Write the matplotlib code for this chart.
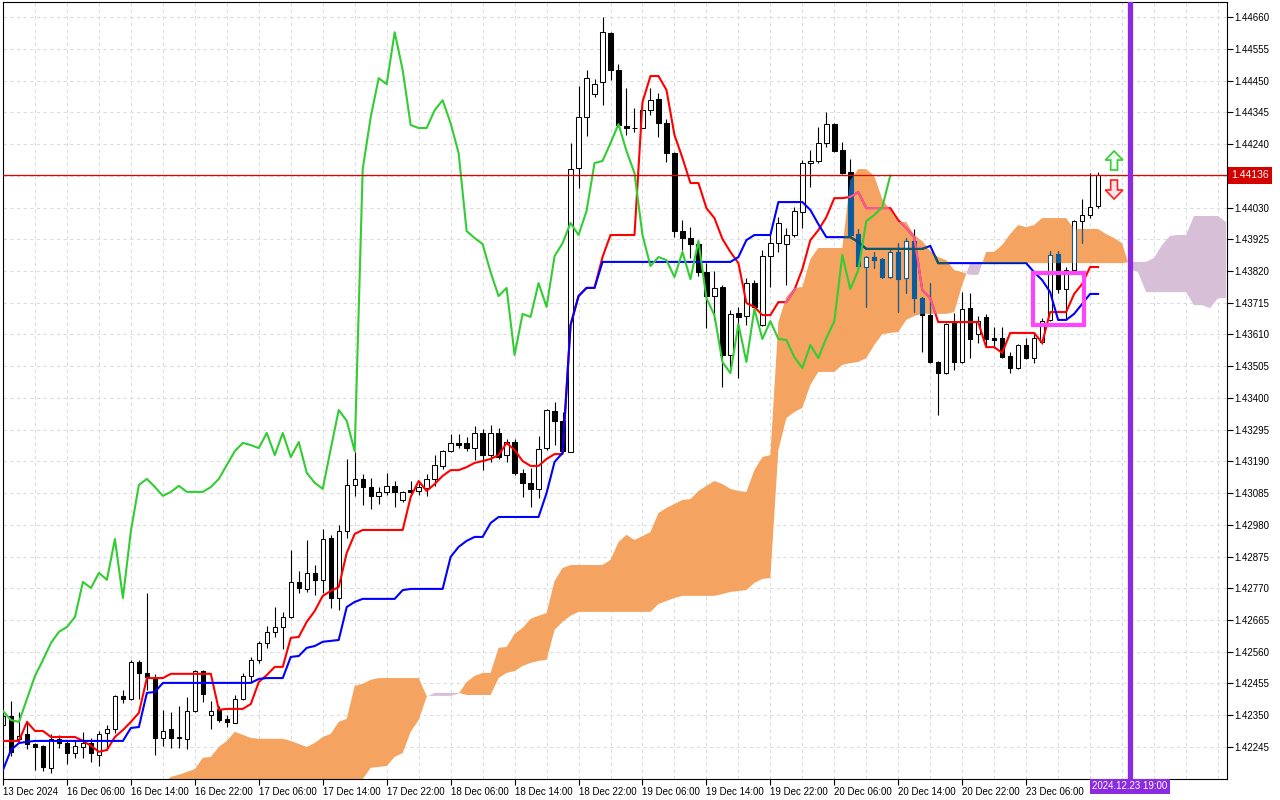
import numpy as np
import matplotlib
matplotlib.use('Agg')
import matplotlib.pyplot as plt
import matplotlib.transforms as mtransforms
from matplotlib.path import Path
from matplotlib.patches import PathPatch, Rectangle, FancyArrow

plt.rcParams['font.family'] = ['Liberation Sans', 'DejaVu Sans']
plt.rcParams['font.size'] = 7

# hourly candles, 13 Dec 2024 22:00 .. 23 Dec 2024 15:00
opens = [
    1.42318, 1.42348, 1.42272, 1.42288, 1.42255, 1.42249, 1.42176, 1.42272, 1.42258, 1.42225,
    1.42245, 1.42258, 1.42219, 1.42292, 1.42305, 1.42414, 1.42404, 1.42526, 1.42490, 1.42477,
    1.42275, 1.42305, 1.42278, 1.42272, 1.42364, 1.42497, 1.42351, 1.42371, 1.42338, 1.42325,
    1.42404, 1.42480, 1.42533, 1.42589, 1.42626, 1.42642, 1.42675, 1.42791, 1.42768, 1.42821,
    1.42798, 1.42937, 1.42738, 1.42960, 1.43112, 1.43132, 1.43105, 1.43076, 1.43089, 1.43109,
    1.43062, 1.43095, 1.43092, 1.43102, 1.43132, 1.43175, 1.43224, 1.43251, 1.43251, 1.43234,
    1.43284, 1.43211, 1.43284, 1.43211, 1.43254, 1.43152, 1.43119, 1.43099, 1.43234, 1.43357,
    1.43324, 1.43221, 1.44160, 1.44329, 1.44405, 1.44445, 1.44607, 1.44485, 1.44299, 1.44293,
    1.44293, 1.44352, 1.44389, 1.44309, 1.44210, 1.43952, 1.43929, 1.43909, 1.43816, 1.43737,
    1.43767, 1.43542, 1.43681, 1.43671, 1.43780, 1.43641, 1.43869, 1.43912, 1.43909, 1.43939,
    1.44015, 1.44177, 1.44184, 1.44243, 1.44306, 1.44220, 1.44147, 1.43942, 1.43833, 1.43866,
    1.43859, 1.43800, 1.43883, 1.43797, 1.43919, 1.43730, 1.43674, 1.43519, 1.43482, 1.43648,
    1.43519, 1.43697, 1.43611, 1.43668, 1.43598, 1.43598, 1.43539, 1.43499, 1.43575, 1.43532,
    1.43585, 1.43658, 1.43876, 1.43760, 1.43823, 1.43985, 1.44005, 1.44035,
]
highs = [
    1.42361, 1.42397, 1.42361, 1.42331, 1.42258, 1.42252, 1.42288, 1.42285, 1.42265, 1.42268,
    1.42295, 1.42275, 1.42298, 1.42318, 1.42417, 1.42434, 1.42533, 1.42533, 1.42755, 1.42487,
    1.42368, 1.42361, 1.42381, 1.42411, 1.42500, 1.42500, 1.42397, 1.42381, 1.42351, 1.42417,
    1.42490, 1.42543, 1.42596, 1.42645, 1.42708, 1.42692, 1.42897, 1.42827, 1.42930, 1.42847,
    1.42966, 1.42947, 1.42980, 1.43198, 1.43221, 1.43148, 1.43135, 1.43105, 1.43152, 1.43125,
    1.43092, 1.43125, 1.43119, 1.43148, 1.43211, 1.43228, 1.43281, 1.43281, 1.43271, 1.43307,
    1.43297, 1.43310, 1.43300, 1.43264, 1.43264, 1.43165, 1.43168, 1.43274, 1.43363, 1.43386,
    1.43353, 1.44243, 1.44432, 1.44485, 1.44455, 1.44660, 1.44610, 1.44505, 1.44425, 1.44359,
    1.44362, 1.44425, 1.44409, 1.44323, 1.44213, 1.43988, 1.43965, 1.43922, 1.43846, 1.43820,
    1.43774, 1.43691, 1.43701, 1.43797, 1.43790, 1.43889, 1.43939, 1.43998, 1.43962, 1.44031,
    1.44187, 1.44220, 1.44296, 1.44346, 1.44309, 1.44247, 1.44190, 1.43959, 1.43869, 1.43883,
    1.43863, 1.43889, 1.43912, 1.43929, 1.43959, 1.43734, 1.43780, 1.43522, 1.43648, 1.43681,
    1.43750, 1.43747, 1.43671, 1.43678, 1.43634, 1.43634, 1.43552, 1.43578, 1.43598, 1.43618,
    1.43664, 1.43886, 1.43886, 1.43833, 1.43988, 1.44058, 1.44144, 1.44147,
]
lows = [
    1.42308, 1.42215, 1.42262, 1.42239, 1.42169, 1.42166, 1.42159, 1.42242, 1.42189, 1.42209,
    1.42209, 1.42196, 1.42182, 1.42235, 1.42292, 1.42391, 1.42401, 1.42404, 1.42434, 1.42219,
    1.42249, 1.42242, 1.42242, 1.42239, 1.42361, 1.42394, 1.42305, 1.42328, 1.42311, 1.42325,
    1.42401, 1.42460, 1.42523, 1.42573, 1.42609, 1.42569, 1.42672, 1.42755, 1.42758, 1.42748,
    1.42755, 1.42705, 1.42698, 1.42937, 1.43076, 1.43046, 1.43032, 1.43049, 1.43079, 1.43039,
    1.43056, 1.43082, 1.43079, 1.43076, 1.43109, 1.43165, 1.43221, 1.43234, 1.43224, 1.43195,
    1.43161, 1.43188, 1.43198, 1.43188, 1.43145, 1.43072, 1.43039, 1.43069, 1.43228, 1.43244,
    1.43221, 1.43221, 1.44094, 1.44266, 1.44395, 1.44369, 1.44452, 1.44296, 1.44270, 1.44280,
    1.44319, 1.44336, 1.44263, 1.44180, 1.43932, 1.43889, 1.43863, 1.43803, 1.43631, 1.43658,
    1.43436, 1.43502, 1.43466, 1.43641, 1.43681, 1.43638, 1.43767, 1.43883, 1.43774, 1.43932,
    1.43962, 1.44098, 1.44177, 1.44230, 1.44213, 1.44141, 1.43936, 1.43833, 1.43701, 1.43830,
    1.43797, 1.43797, 1.43684, 1.43747, 1.43684, 1.43552, 1.43515, 1.43343, 1.43479, 1.43492,
    1.43515, 1.43532, 1.43582, 1.43568, 1.43565, 1.43532, 1.43482, 1.43496, 1.43529, 1.43515,
    1.43578, 1.43654, 1.43747, 1.43658, 1.43816, 1.43912, 1.43995, 1.44028,
]
closes = [
    1.42348, 1.42229, 1.42282, 1.42255, 1.42245, 1.42179, 1.42272, 1.42258, 1.42225, 1.42249,
    1.42258, 1.42225, 1.42288, 1.42305, 1.42414, 1.42404, 1.42526, 1.42490, 1.42477, 1.42275,
    1.42298, 1.42275, 1.42275, 1.42364, 1.42497, 1.42421, 1.42364, 1.42334, 1.42328, 1.42404,
    1.42480, 1.42533, 1.42589, 1.42626, 1.42642, 1.42675, 1.42791, 1.42771, 1.42821, 1.42798,
    1.42933, 1.42738, 1.42960, 1.43112, 1.43132, 1.43105, 1.43076, 1.43089, 1.43109, 1.43089,
    1.43089, 1.43089, 1.43105, 1.43132, 1.43178, 1.43224, 1.43251, 1.43244, 1.43234, 1.43284,
    1.43211, 1.43284, 1.43204, 1.43254, 1.43152, 1.43119, 1.43099, 1.43231, 1.43360, 1.43324,
    1.43224, 1.44157, 1.44329, 1.44458, 1.44438, 1.44610, 1.44485, 1.44303, 1.44293, 1.44293,
    1.44352, 1.44385, 1.44309, 1.44210, 1.43952, 1.43929, 1.43909, 1.43816, 1.43737, 1.43764,
    1.43542, 1.43678, 1.43668, 1.43780, 1.43701, 1.43869, 1.43912, 1.43979, 1.43939, 1.44018,
    1.44177, 1.44184, 1.44243, 1.44306, 1.44217, 1.44144, 1.43939, 1.43836, 1.43866, 1.43856,
    1.43800, 1.43883, 1.43793, 1.43919, 1.43730, 1.43674, 1.43519, 1.43482, 1.43644, 1.43519,
    1.43694, 1.43595, 1.43654, 1.43595, 1.43592, 1.43535, 1.43499, 1.43575, 1.43532, 1.43598,
    1.43654, 1.43873, 1.43760, 1.43823, 1.43985, 1.44005, 1.44031, 1.44136,
]

# Ichimoku lines (one value per bar)
tenkan = [
    1.42265, 1.42265, 1.42265, 1.42328, 1.42298, 1.42298, 1.42278, 1.42278, 1.42278, 1.42278,
    1.42265, 1.42249, 1.42229, 1.42235, 1.42278, 1.42301, 1.42328, 1.42358, 1.42473, 1.42473,
    1.42473, 1.42487, 1.42487, 1.42487, 1.42487, 1.42487, 1.42487, 1.42368, 1.42371, 1.42371,
    1.42371, 1.42387, 1.42460, 1.42483, 1.42510, 1.42510, 1.42606, 1.42609, 1.42659, 1.42695,
    1.42745, 1.42761, 1.42774, 1.42887, 1.42950, 1.42963, 1.42963, 1.42963, 1.42963, 1.42963,
    1.42963, 1.43072, 1.43125, 1.43092, 1.43115, 1.43142, 1.43161, 1.43161, 1.43171, 1.43185,
    1.43191, 1.43198, 1.43211, 1.43251, 1.43228, 1.43191, 1.43175, 1.43175, 1.43198, 1.43214,
    1.43214, 1.43641, 1.43737, 1.43764, 1.43764, 1.43866, 1.43939, 1.43939, 1.43939, 1.43939,
    1.44379, 1.44465, 1.44465, 1.44419, 1.44270, 1.44194, 1.44111, 1.44111, 1.44028, 1.43995,
    1.43926, 1.43883, 1.43846, 1.43714, 1.43701, 1.43674, 1.43674, 1.43717, 1.43717, 1.43757,
    1.43826, 1.43922, 1.43955, 1.43998, 1.44061, 1.44061, 1.44065, 1.44081, 1.44028, 1.44028,
    1.44028, 1.44028, 1.43988, 1.43962, 1.43932, 1.43757, 1.43730, 1.43651, 1.43651, 1.43651,
    1.43651, 1.43651, 1.43651, 1.43568, 1.43568, 1.43549, 1.43615, 1.43615, 1.43615, 1.43615,
    1.43582, 1.43684, 1.43684, 1.43684, 1.43744, 1.43777, 1.43833, 1.43833,
]
kijun = [
    1.42169, 1.42235, 1.42258, 1.42262, 1.42265, 1.42265, 1.42265, 1.42265, 1.42265, 1.42265,
    1.42265, 1.42265, 1.42265, 1.42265, 1.42265, 1.42265, 1.42308, 1.42311, 1.42424, 1.42427,
    1.42457, 1.42457, 1.42457, 1.42457, 1.42457, 1.42457, 1.42457, 1.42457, 1.42457, 1.42457,
    1.42457, 1.42457, 1.42470, 1.42473, 1.42473, 1.42473, 1.42543, 1.42546, 1.42573, 1.42579,
    1.42593, 1.42596, 1.42599, 1.42708, 1.42725, 1.42735, 1.42735, 1.42735, 1.42735, 1.42735,
    1.42764, 1.42768, 1.42768, 1.42768, 1.42768, 1.42768, 1.42874, 1.42907, 1.42927, 1.42940,
    1.42940, 1.42986, 1.43006, 1.43006, 1.43006, 1.43006, 1.43006, 1.43006, 1.43085, 1.43188,
    1.43218, 1.43641, 1.43737, 1.43764, 1.43764, 1.43850, 1.43850, 1.43850, 1.43850, 1.43850,
    1.43850, 1.43850, 1.43850, 1.43850, 1.43850, 1.43850, 1.43850, 1.43850, 1.43850, 1.43850,
    1.43850, 1.43850, 1.43866, 1.43922, 1.43939, 1.43939, 1.43939, 1.44048, 1.44048, 1.44048,
    1.44048, 1.44022, 1.43975, 1.43932, 1.43932, 1.43932, 1.43932, 1.43916, 1.43893, 1.43893,
    1.43893, 1.43893, 1.43893, 1.43893, 1.43893, 1.43893, 1.43903, 1.43846, 1.43846, 1.43846,
    1.43846, 1.43846, 1.43846, 1.43846, 1.43846, 1.43846, 1.43846, 1.43846, 1.43846, 1.43816,
    1.43790, 1.43750, 1.43658, 1.43658, 1.43678, 1.43711, 1.43744, 1.43744,
]

# cloud edges, bars 18 .. 153 (26 bars ahead of the last candle)
cloud_first_bar = 18
span_a = [
    1.42053, 1.42096, 1.42123, 1.42146, 1.42153, 1.42162, 1.42172, 1.42209, 1.42212, 1.42245,
    1.42265, 1.42295, 1.42285, 1.42275, 1.42272, 1.42272, 1.42272, 1.42272, 1.42265, 1.42255,
    1.42245, 1.42258, 1.42278, 1.42288, 1.42328, 1.42338, 1.42447, 1.42454, 1.42467, 1.42473,
    1.42473, 1.42473, 1.42473, 1.42473, 1.42473, 1.42414, 1.42414, 1.42414, 1.42414, 1.42421,
    1.42460, 1.42480, 1.42490, 1.42490, 1.42573, 1.42576, 1.42619, 1.42639, 1.42669, 1.42679,
    1.42688, 1.42794, 1.42837, 1.42847, 1.42847, 1.42847, 1.42847, 1.42847, 1.42864, 1.42923,
    1.42947, 1.42930, 1.42943, 1.42956, 1.43019, 1.43036, 1.43049, 1.43062, 1.43065, 1.43092,
    1.43109, 1.43125, 1.43115, 1.43099, 1.43092, 1.43089, 1.43161, 1.43204, 1.43211, 1.43651,
    1.43734, 1.43764, 1.43767, 1.43859, 1.43896, 1.43896, 1.43896, 1.43896, 1.44121, 1.44157,
    1.44157, 1.44134, 1.44058, 1.44022, 1.43982, 1.43982, 1.43939, 1.43919, 1.43886, 1.43866,
    1.43856, 1.43823, 1.43816, 1.43807, 1.43807, 1.43883, 1.43883, 1.43906, 1.43942, 1.43972,
    1.43965, 1.43972, 1.43995, 1.43995, 1.43995, 1.43995, 1.43959, 1.43959, 1.43959, 1.43959,
    1.43942, 1.43929, 1.43912, 1.43826, 1.43816, 1.43750, 1.43750, 1.43750, 1.43750, 1.43750,
    1.43750, 1.43707, 1.43707, 1.43697, 1.43730, 1.43730,
]
span_b = [
    1.42070, 1.42070, 1.42070, 1.42070, 1.42070, 1.42070, 1.42070, 1.42070, 1.42070, 1.42070,
    1.42070, 1.42070, 1.42070, 1.42070, 1.42070, 1.42070, 1.42070, 1.42070, 1.42070, 1.42070,
    1.42070, 1.42070, 1.42070, 1.42070, 1.42070, 1.42070, 1.42103, 1.42139, 1.42176, 1.42179,
    1.42182, 1.42212, 1.42225, 1.42295, 1.42334, 1.42411, 1.42424, 1.42424, 1.42424, 1.42424,
    1.42417, 1.42417, 1.42417, 1.42417, 1.42473, 1.42490, 1.42496, 1.42513, 1.42523, 1.42530,
    1.42533, 1.42632, 1.42659, 1.42679, 1.42692, 1.42692, 1.42692, 1.42692, 1.42692, 1.42692,
    1.42692, 1.42692, 1.42692, 1.42692, 1.42718, 1.42728, 1.42738, 1.42745, 1.42745, 1.42745,
    1.42745, 1.42745, 1.42751, 1.42758, 1.42761, 1.42764, 1.42788, 1.42801, 1.42804, 1.43228,
    1.43333, 1.43353, 1.43367, 1.43443, 1.43486, 1.43486, 1.43486, 1.43509, 1.43515, 1.43519,
    1.43532, 1.43575, 1.43611, 1.43615, 1.43618, 1.43658, 1.43671, 1.43678, 1.43678, 1.43678,
    1.43678, 1.43684, 1.43774, 1.43846, 1.43846, 1.43846, 1.43846, 1.43846, 1.43846, 1.43846,
    1.43846, 1.43846, 1.43846, 1.43846, 1.43846, 1.43846, 1.43846, 1.43846, 1.43846, 1.43846,
    1.43846, 1.43846, 1.43846, 1.43850, 1.43850, 1.43850, 1.43863, 1.43906, 1.43936, 1.43939,
    1.43939, 1.44002, 1.44002, 1.44002, 1.44002, 1.43982,
]
chikou_shift = 26

time_ticks = [0, 8, 16, 24, 32, 40, 48, 56, 64, 72, 80, 88, 96, 104, 112, 120, 128]
time_labels = ['13 Dec 2024', '16 Dec 06:00', '16 Dec 14:00', '16 Dec 22:00', '17 Dec 06:00',
               '17 Dec 14:00', '17 Dec 22:00', '18 Dec 06:00', '18 Dec 14:00', '18 Dec 22:00',
               '19 Dec 06:00', '19 Dec 14:00', '19 Dec 22:00', '20 Dec 06:00', '20 Dec 14:00',
               '20 Dec 22:00', '23 Dec 06:00']
price_ticks = [1.42245, 1.42350, 1.42455, 1.42560, 1.42665, 1.42770, 1.42875, 1.42980,
               1.43085, 1.43190, 1.43295, 1.43400, 1.43505, 1.43610, 1.43715, 1.43820,
               1.43925, 1.44030, 1.44135, 1.44240, 1.44345, 1.44450, 1.44555, 1.44660]

marker_bar = 141
marker_label = '2024.12.23 19:00'
box_bars = (128.9, 135.25)
box_prices = (1.43641, 1.43813)
arrow_bar = 139
up_arrow = (1.44154, 1.44217)
down_arrow = (1.44121, 1.44058)

bars = np.arange(len(closes))
cloud_x = np.arange(cloud_first_bar, cloud_first_bar + len(span_a))

fig = plt.figure(figsize=(12.8, 8), dpi=100)
ax = fig.add_axes([3 / 1280, 21 / 800, 1224 / 1280, 777 / 800])
ax.set_xlim(0.125, 153.125)
ax.set_ylim(1.42139, 1.44710)

# cloud
a = np.array(span_a)
b = np.array(span_b)
ax.fill_between(cloud_x, a, b, where=a < b, interpolate=True, color='#d8bfd8', lw=0, zorder=1)
bull = ax.fill_between(cloud_x, a, b, where=a >= b, interpolate=True, color='#f4a460', lw=0, zorder=1)
clip = PathPatch(Path.make_compound_path(*bull.get_paths()), transform=ax.transData)


def draw_candles(edge, down_fill, z, clip_patch=None):
    o, h, l, c = (np.array(v) for v in (opens, highs, lows, closes))
    wick = ax.vlines(bars, l, h, colors=edge, lw=0.8, zorder=z)
    body = ax.bar(bars, np.abs(c - o), bottom=np.minimum(o, c), width=0.55,
                  color=['white' if up else down_fill for up in c >= o],
                  edgecolor=edge, lw=0.75, zorder=z + 0.1)
    if clip_patch is not None:
        wick.set_clip_path(clip_patch)
        for p in body:
            p.set_clip_path(clip_patch)


draw_candles('black', 'black', 2)
draw_candles('#0b5b9f', '#0b5b9f', 2.5, clip)

ax.plot(bars, tenkan, color='#ff0000', lw=1.5, zorder=3)
ax.plot(bars, tenkan, color='#f45b9f', lw=1.5, zorder=3.2)[0].set_clip_path(clip)
ax.plot(bars, kijun, color='#0000ff', lw=1.5, zorder=3)
ax.plot(bars, kijun, color='#0b5b60', lw=1.5, zorder=3.2)[0].set_clip_path(clip)
ax.plot(bars[:-chikou_shift], closes[chikou_shift:], color='#32cd32', lw=1.5, zorder=4)

# last price line and label
last = closes[-1]
ax.axhline(last, color='#e00000', lw=0.9, zorder=4.5)
yt = mtransforms.blended_transform_factory(ax.transAxes, ax.transData)
ax.text(1.0 + 4 / 1224, last, f'{last:.5f}', transform=yt, ha='left', va='center',
        color='white', fontsize=7.5,
        bbox=dict(boxstyle='square,pad=0.3', fc='#d40000', ec='none'),
        clip_on=False, zorder=10)

# time marker
ax.axvline(marker_bar, color='#8a2be2', lw=3.8, zorder=5)
xt = mtransforms.blended_transform_factory(ax.transData, ax.transAxes)
ax.text(marker_bar, -0.003, marker_label, transform=xt, ha='center', va='top', color='white',
        bbox=dict(boxstyle='square,pad=0.25', fc='#8a2be2', ec='none'), clip_on=False, zorder=10)

# pattern box and signal arrows
ax.add_patch(Rectangle((box_bars[0], box_prices[0]), box_bars[1] - box_bars[0],
                       box_prices[1] - box_prices[0], fill=False, ec='#ff44ff', lw=3, zorder=6))
ax.add_patch(FancyArrow(arrow_bar, up_arrow[0], 0, up_arrow[1] - up_arrow[0], width=0.85,
                        head_width=2.2, head_length=0.0003, length_includes_head=True,
                        fc='#f0fff0', ec='#33cc33', lw=1.2, zorder=6))
ax.add_patch(FancyArrow(arrow_bar, down_arrow[0], 0, down_arrow[1] - down_arrow[0], width=0.85,
                        head_width=2.2, head_length=0.0003, length_includes_head=True,
                        fc='#ffe4ea', ec='#ff2020', lw=1.2, zorder=6))

# axes
ax.yaxis.tick_right()
ax.set_yticks(price_ticks)
ax.set_yticklabels(['' if abs(p - last) < 0.0003 else f'{p:.5f}' for p in price_ticks])
ax.set_xticks(time_ticks)
ax.set_xticklabels(time_labels, ha='left')
ax.set_xticks(np.arange(0, 154, 4), minor=True)
ax.tick_params(axis='y', direction='out', length=4, width=0.8, pad=1.5, labelsize=7)
ax.tick_params(axis='x', which='major', direction='out', length=4, width=0.8, pad=2, labelsize=7)
ax.tick_params(axis='x', which='minor', length=0)
grid_kw = dict(color='#dcdcdc', ls=(0, (3, 3)), lw=0.8)
ax.grid(True, which='both', axis='x', **grid_kw)
ax.grid(True, which='major', axis='y', **grid_kw)
ax.set_axisbelow(True)
for s in ax.spines.values():
    s.set_color('black')
    s.set_linewidth(0.8)

fig.savefig('out.png', dpi=100)
